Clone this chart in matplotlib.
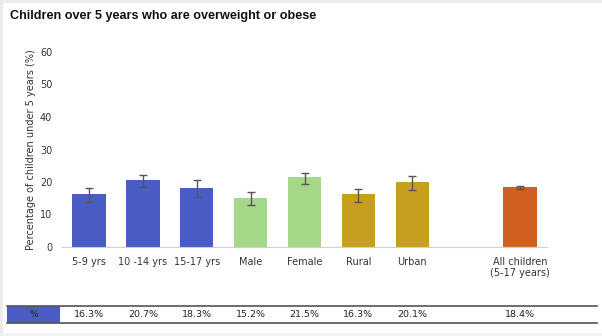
import numpy as np
import matplotlib.pyplot as plt
from matplotlib.patches import Rectangle
from matplotlib.lines import Line2D
import matplotlib.transforms as mtransforms

categories = ['5-9 yrs', '10 -14 yrs', '15-17 yrs', 'Male', 'Female', 'Rural', 'Urban',
              'All children\n(5-17 years)']
positions = [0, 1, 2, 3, 4, 5, 6, 8]
values = [16.3, 20.7, 18.3, 15.2, 21.5, 16.3, 20.1, 18.4]
err_low = [2.3, 2.3, 3.0, 2.3, 2.0, 2.4, 2.6, 0.5]
err_high = [1.8, 1.6, 2.3, 1.6, 1.4, 1.4, 1.7, 0.5]
table_labels = ['16.3%', '20.7%', '18.3%', '15.2%', '21.5%', '16.3%', '20.1%', '18.4%']

blue = '#4a5dc6'
green = '#a6d889'
gold = '#c79f1f'
orange = '#d0601f'
colors = [blue, blue, blue, green, green, gold, gold, orange]

W, H = 602, 336
fig = plt.figure(figsize=(W / 100, H / 100), dpi=100)
fig.patch.set_facecolor('white')

# light frame around the picture
fig.patches.append(Rectangle((0, 1 - 3 / H), 1, 3 / H, transform=fig.transFigure,
                             color='#ececec', lw=0))
fig.patches.append(Rectangle((0, 0), 3 / W, 1, transform=fig.transFigure,
                             color='#ececec', lw=0))
fig.patches.append(Rectangle((0, 0), 1, 3 / H, transform=fig.transFigure,
                             color='#f2f2f2', lw=0))

fig.text(10 / W, 1 - 16 / H, 'Children over 5 years who are overweight or obese',
         fontsize=9.1, fontweight='bold', ha='left', va='center', color='#111111',
         family='Liberation Sans')

ax = fig.add_axes([62 / W, 1 - 247 / H, (547 - 62) / W, (247 - 52) / H])
ax.bar(positions, values, width=0.62, color=colors, edgecolor='none', zorder=2)
ax.errorbar(positions, values, yerr=[err_low, err_high], fmt='none', ecolor='#555555',
            elinewidth=1, capsize=3, capthick=1, zorder=3)

ax.set_xlim(-0.5, 8.5)
ax.set_ylim(0, 60)
ax.set_yticks([0, 10, 20, 30, 40, 50, 60])
ax.set_xticks(positions)
ax.set_xticklabels(categories, fontsize=7, color='#333333')
ax.tick_params(axis='both', length=0, labelsize=7, labelcolor='#333333')
ax.tick_params(axis='x', pad=7)
ax.tick_params(axis='y', pad=7)
for s in ['top', 'right', 'left']:
    ax.spines[s].set_visible(False)
ax.spines['bottom'].set_color('#d0d0d0')
ax.set_ylabel('Percentage of children under 5 years (%)', fontsize=7, color='#333333',
              labelpad=3)

# data table below the chart
y_top = 1 - 306 / H
y_bot = 1 - 323 / H
fig.patches.append(Rectangle((7 / W, y_bot), (60 - 7) / W, y_top - y_bot,
                             transform=fig.transFigure, color=blue, lw=0))
fig.text((7 + 60) / 2 / W, (y_top + y_bot) / 2, '%', fontsize=6.5, ha='center',
         va='center', color='#222222')
for yy in [y_top, y_bot]:
    fig.lines.append(Line2D([7 / W, 597 / W], [yy, yy], transform=fig.transFigure,
                            color='#555555', lw=1.2))
trans = mtransforms.blended_transform_factory(ax.transData, fig.transFigure)
for p, lab in zip(positions, table_labels):
    fig.text(p, (y_top + y_bot) / 2, lab, transform=trans, fontsize=6.8,
             ha='center', va='center', color='#222222')

fig.savefig('out.png', dpi=100, facecolor='white')
